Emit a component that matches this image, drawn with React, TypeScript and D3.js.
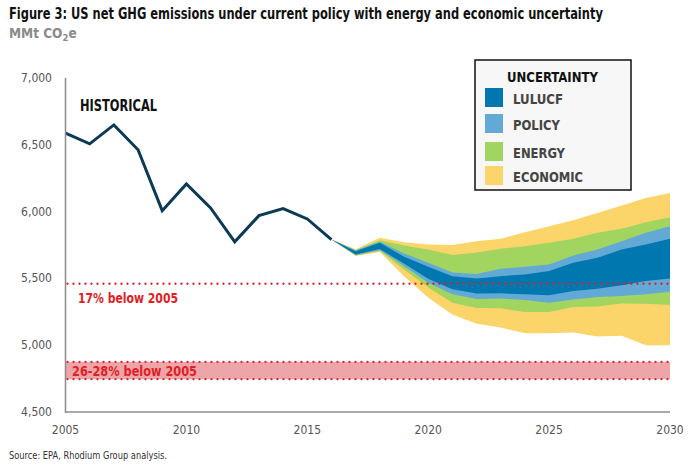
import React from "react";
import * as d3 from "d3";

const histYears = [2005, 2006, 2007, 2008, 2009, 2010, 2011, 2012, 2013, 2014, 2015, 2016];
const histValues = [6587, 6507, 6649, 6463, 6007, 6207, 6028, 5774, 5970, 6022, 5945, 5791];

const projYears = [2016, 2017, 2018, 2019, 2020, 2021, 2022, 2023, 2024, 2025, 2026, 2027, 2028, 2029, 2030];
const economicUpper = [5791, 5718, 5804, 5771, 5754, 5750, 5779, 5796, 5846, 5891, 5935, 5990, 6045, 6102, 6140];
const energyUpper = [5791, 5712, 5785, 5746, 5716, 5675, 5694, 5722, 5741, 5766, 5796, 5841, 5871, 5920, 5957];
const policyUpper = [5791, 5708, 5775, 5687, 5617, 5545, 5533, 5572, 5587, 5604, 5672, 5716, 5779, 5841, 5891];
const lulucfUpper = [5791, 5704, 5766, 5662, 5587, 5516, 5500, 5517, 5530, 5555, 5617, 5654, 5716, 5754, 5796];
const lulucfLower = [5791, 5678, 5720, 5612, 5498, 5418, 5387, 5388, 5381, 5373, 5405, 5423, 5448, 5480, 5500];
const policyLower = [5791, 5675, 5713, 5592, 5468, 5381, 5345, 5349, 5338, 5318, 5343, 5360, 5368, 5381, 5400];
const energyLower = [5791, 5672, 5706, 5567, 5431, 5318, 5278, 5276, 5249, 5249, 5286, 5289, 5313, 5311, 5301];
const economicLower = [5791, 5668, 5698, 5517, 5356, 5230, 5160, 5132, 5090, 5090, 5095, 5065, 5070, 5000, 5000];

const yTicks = [4500, 5000, 5500, 6000, 6500, 7000];
const xTicks = [2005, 2010, 2015, 2020, 2025, 2030];

const target17 = 5460;
const target26 = 4875;
const target28 = 4746;

const legendItems = [
  { label: "LULUCF", color: "#0077ae" },
  { label: "POLICY", color: "#62a9d6" },
  { label: "ENERGY", color: "#a1d55f" },
  { label: "ECONOMIC", color: "#fcd56a" },
];

const FONT = "'Liberation Sans Narrow', 'DejaVu Sans Condensed', 'Roboto Condensed', 'Arial Narrow', 'Liberation Sans', sans-serif";

export default function App() {
  const W = 694, H = 467;
  const x = d3.scaleLinear().domain([2005, 2030]).range([65.5, 670]);
  const y = d3.scaleLinear().domain([4500, 7000]).range([412, 78]);

  const line = d3.line<number>().x((_, i) => x(histYears[i])).y((d) => y(d));
  const band = (lo: number[], hi: number[]) =>
    d3
      .area<number>()
      .x((_, i) => x(projYears[i]))
      .y0((_, i) => y(lo[i]))
      .y1((_, i) => y(hi[i]))(projYears) || "";

  const bands = [
    { lo: economicLower, hi: economicUpper, color: "#fcd56a" },
    { lo: energyLower, hi: energyUpper, color: "#a1d55f" },
    { lo: policyLower, hi: policyUpper, color: "#62a9d6" },
    { lo: lulucfLower, hi: lulucfUpper, color: "#0077ae" },
  ];

  const red = "#e01e26";
  const x0 = x(2005), x1 = x(2030);

  return (
    <svg width={W} height={H} style={{ position: "absolute", left: 0, top: 0, background: "#fff" }} fontFamily={FONT}>
      <text transform="translate(9,19) scale(0.822,1)" fontSize={15.5} fontWeight="bold" fill="#111">
        Figure 3: US net GHG emissions under current policy with energy and economic uncertainty
      </text>
      <text x={9} y={38} fontSize={13.5} fontWeight="bold" fill="#8a8a8a">
        MMt CO<tspan fontSize={9.5} dy={3}>2</tspan><tspan dy={-3}>e</tspan>
      </text>

      {/* target band */}
      <rect x={x0} y={y(target26)} width={x1 - x0} height={y(target28) - y(target26)} fill="#eda5a9" />

      {bands.map((b, i) => (
        <path key={i} d={band(b.lo, b.hi)} fill={b.color} />
      ))}

      <path d={line(histValues) || ""} fill="none" stroke="#0c3a56" strokeWidth={3} strokeLinejoin="miter" />

      {[target17, target26, target28].map((v, i) => (
        <line key={i} x1={x0 + 2} x2={x1} y1={y(v)} y2={y(v)} stroke={red} strokeWidth={2.3} strokeDasharray="0 6" strokeLinecap="round" />
      ))}

      <text x={78} y={303} fontSize={14} fontWeight="bold" fill={red} textLength={100} lengthAdjust="spacingAndGlyphs">17% below 2005</text>
      <text x={72} y={376} fontSize={14} fontWeight="bold" fill={red} textLength={125} lengthAdjust="spacingAndGlyphs">26-28% below 2005</text>

      {/* axes */}
      <line x1={x0} x2={x0} y1={y(7000)} y2={y(4500) + 1} stroke="#8c8c8c" strokeWidth={1.5} />
      <line x1={x0} x2={x1} y1={y(4500)} y2={y(4500)} stroke="#8c8c8c" strokeWidth={1.5} />
      {yTicks.map((t) => (
        <text key={t} x={52} y={y(t) + 4} fontSize={12} fill="#555" textAnchor="end">
          {d3.format(",")(t)}
        </text>
      ))}
      {xTicks.map((t) => (
        <text key={t} x={x(t)} y={434} fontSize={12} fill="#555" textAnchor="middle">
          {t}
        </text>
      ))}

      <text x={80} y={111} fontSize={15} fontWeight="bold" fill="#111" textLength={77} lengthAdjust="spacingAndGlyphs">HISTORICAL</text>

      {/* legend */}
      <rect x={475} y={60} width={156} height={130} fill="#f7f7f7" stroke="#111" strokeWidth={1.5} />
      <text x={552.5} y={82} fontSize={14} fontWeight="bold" fill="#111" textAnchor="middle" textLength={91} lengthAdjust="spacingAndGlyphs">UNCERTAINTY</text>
      {legendItems.map((it, i) => {
        const sy = [88, 114, 142, 166][i];
        const ty = [104, 130, 158, 182][i];
        const tw = [50, 47, 52, 70][i];
        return (
          <g key={it.label}>
            <rect x={485} y={sy} width={18} height={19} fill={it.color} />
            <text x={513} y={ty} fontSize={14} fontWeight="bold" fill="#444" textLength={tw} lengthAdjust="spacingAndGlyphs">{it.label}</text>
          </g>
        );
      })}

      <text x={9} y={459} fontSize={10.5} fill="#333" textLength={158} lengthAdjust="spacingAndGlyphs">Source: EPA, Rhodium Group analysis.</text>
    </svg>
  );
}
